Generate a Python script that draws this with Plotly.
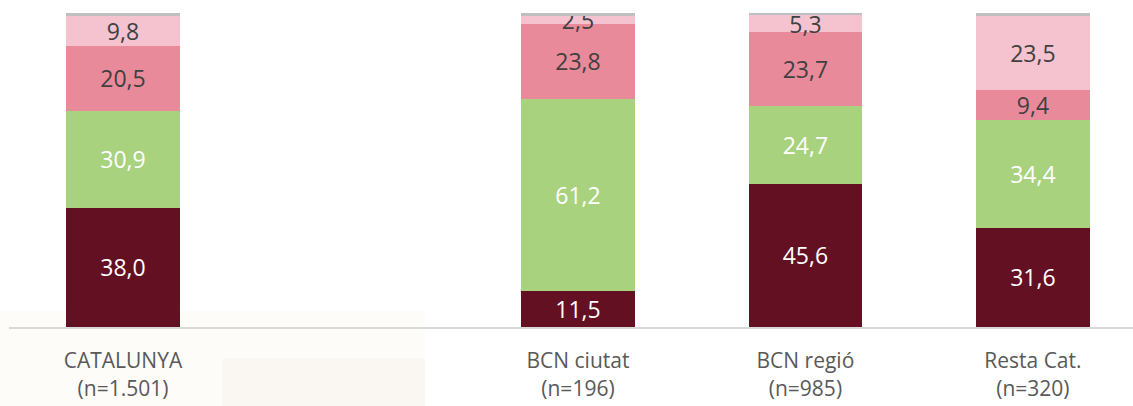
import plotly.graph_objects as go

categories = ["CATALUNYA<br>(n=1.501)", " ", "BCN ciutat<br>(n=196)", "BCN regió<br>(n=985)", "Resta Cat.<br>(n=320)"]
s1 = [38.0, None, 11.5, 45.6, 31.6]
s2 = [30.9, None, 61.2, 24.7, 34.4]
s3 = [20.5, None, 23.8, 23.7, 9.4]
s4 = [9.8, None, 2.5, 5.3, 23.5]
s5 = [0.8, None, 1.0, 0.7, 1.1]

series = [
    (s1, "#641023", "white", True),
    (s2, "#A9D27F", "white", True),
    (s3, "#E98A9B", "#404040", True),
    (s4, "#F4C3CF", "#404040", True),
    (s5, "#BFBFBF", "#404040", False),
]

fig = go.Figure()
for vals, col, tcol, show in series:
    fig.add_trace(go.Bar(
        x=categories, y=vals, marker=dict(color=col, line=dict(width=0)),
        texttemplate="%{y:.1f}" if show else None,
        textposition="inside" if show else "none",
        insidetextanchor="middle",
        textfont=dict(color=tcol, size=23, family="Open Sans"),
        hoverinfo="skip",
    ))

# faint background watermark
fig.add_shape(type="rect", xref="paper", yref="paper", x0=-0.01, x1=0.37, y0=-0.3, y1=0.05,
              fillcolor="rgba(250,235,215,0.14)", line=dict(width=0), layer="below")
fig.add_shape(type="rect", xref="paper", yref="paper", x0=0.19, x1=0.37, y0=-0.3, y1=-0.1,
              fillcolor="rgba(225,220,215,0.14)", line=dict(width=0), layer="below")

fig.update_layout(
    barmode="stack",
    bargap=0.5,
    width=1133, height=406,
    margin=dict(l=9, r=0, t=13, b=79, autoexpand=False),
    plot_bgcolor="rgba(0,0,0,0)",
    paper_bgcolor="white",
    showlegend=False,
    separators=",.",
    uniformtext=dict(minsize=23, mode="show"),
    font=dict(family="Open Sans", color="#595959"),
    xaxis=dict(type="category", range=[-0.501, 4.44], showline=True, linecolor="#D9D9D9", linewidth=2,
               ticks="", tickfont=dict(size=21, color="#595959"), showgrid=False, zeroline=False,
               ticklabelstandoff=14, automargin=False),
    yaxis=dict(range=[0, 100], visible=False, showgrid=False, zeroline=False),
)

fig.write_html("out.html", config={"displayModeBar": False},
               post_script="document.body.style.margin='0';document.body.style.padding='0';")
